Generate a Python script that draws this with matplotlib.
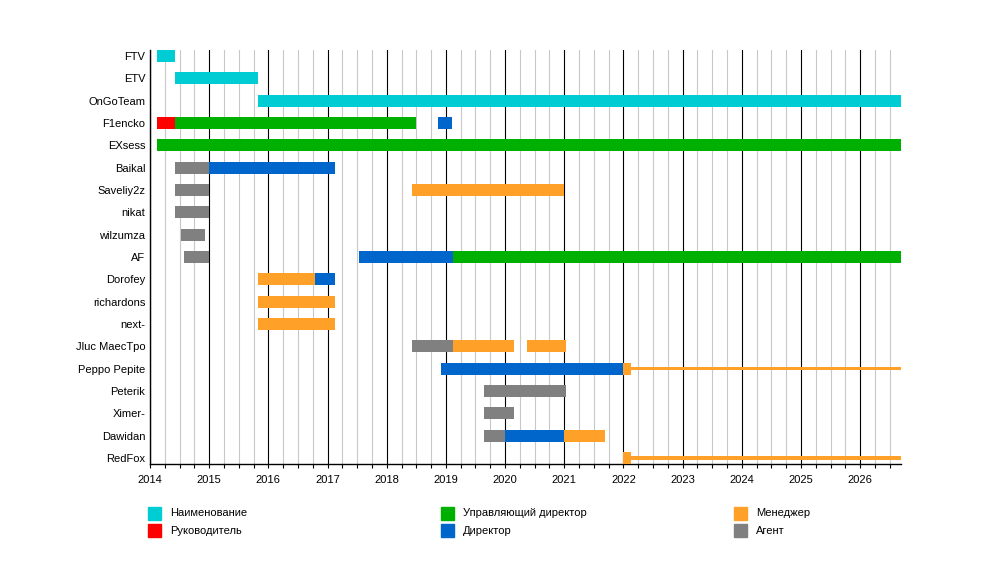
import matplotlib.pyplot as plt
from matplotlib.patches import Rectangle
from matplotlib.ticker import MultipleLocator

plt.rcParams['font.family'] = ['Liberation Sans', 'DejaVu Sans']

END = 2026.69  # timeline runs to "now"

names = ["FTV", "ETV", "OnGoTeam", "F1encko", "EXsess", "Baikal", "Saveliy2z",
         "nikat", "wilzumza", "AF", "Dorofey", "richardons", "next-",
         "Jluc MaecTpo", "Peppo Pepite", "Peterik", "Ximer-", "Dawidan", "RedFox"]

roles = ["Наименование", "Руководитель", "Управляющий директор",
         "Директор", "Менеджер", "Агент"]
role_colors = {
    "Наименование": "#00CCD4",
    "Руководитель": "#FF0000",
    "Управляющий директор": "#00B000",
    "Директор": "#0066CC",
    "Менеджер": "#FFA028",
    "Агент": "#808080",
}

# (name, start, end, role)
periods = [
    ("FTV", 2014.12, 2014.42, "Наименование"),
    ("ETV", 2014.42, 2015.83, "Наименование"),
    ("OnGoTeam", 2015.83, END, "Наименование"),
    ("F1encko", 2014.12, 2014.42, "Руководитель"),
    ("F1encko", 2014.42, 2018.50, "Управляющий директор"),
    ("F1encko", 2018.87, 2019.10, "Директор"),
    ("EXsess", 2014.12, END, "Управляющий директор"),
    ("Baikal", 2014.42, 2015.00, "Агент"),
    ("Baikal", 2015.00, 2017.13, "Директор"),
    ("Saveliy2z", 2014.42, 2015.00, "Агент"),
    ("Saveliy2z", 2018.42, 2021.00, "Менеджер"),
    ("nikat", 2014.42, 2015.00, "Агент"),
    ("wilzumza", 2014.52, 2014.93, "Агент"),
    ("AF", 2014.57, 2015.00, "Агент"),
    ("AF", 2017.53, 2019.12, "Директор"),
    ("AF", 2019.12, END, "Управляющий директор"),
    ("Dorofey", 2015.83, 2016.79, "Менеджер"),
    ("Dorofey", 2016.79, 2017.13, "Директор"),
    ("richardons", 2015.83, 2017.13, "Менеджер"),
    ("next-", 2015.83, 2017.13, "Менеджер"),
    ("Jluc MaecTpo", 2018.42, 2019.12, "Агент"),
    ("Jluc MaecTpo", 2019.12, 2020.15, "Менеджер"),
    ("Jluc MaecTpo", 2020.37, 2021.03, "Менеджер"),
    ("Peppo Pepite", 2018.92, 2022.00, "Директор"),
    ("Peppo Pepite", 2022.00, 2022.13, "Менеджер"),
    ("Peterik", 2019.65, 2021.03, "Агент"),
    ("Ximer-", 2019.65, 2020.15, "Агент"),
    ("Dawidan", 2019.65, 2020.00, "Агент"),
    ("Dawidan", 2020.00, 2021.00, "Директор"),
    ("Dawidan", 2021.00, 2021.69, "Менеджер"),
    ("RedFox", 2022.00, 2022.13, "Менеджер"),
]

# thin "still active" lines
thin_periods = [
    ("Peppo Pepite", 2022.13, END, "Менеджер"),
    ("RedFox", 2022.13, END, "Менеджер"),
]

BAR_H = 0.536
THIN_H = 0.14

fig = plt.figure(figsize=(10, 5.74), dpi=100)
ax = fig.add_axes([0.15, 0.1916, 0.751, 0.7213])

row = {n: i for i, n in enumerate(names)}
for n, s, e, r in periods:
    ax.barh(row[n], e - s, left=s, height=BAR_H, color=role_colors[r], zorder=3, linewidth=0)
for n, s, e, r in thin_periods:
    ax.barh(row[n], e - s, left=s, height=THIN_H, color=role_colors[r], zorder=3, linewidth=0)

ax.set_xlim(2014, END)
ax.set_ylim(len(names) - 1 + BAR_H / 2, -BAR_H / 2)
ax.set_yticks(range(len(names)))
ax.set_yticklabels(names, fontsize=8)
ax.tick_params(axis='y', length=0, pad=3.5)

ax.xaxis.set_minor_locator(MultipleLocator(0.25))
ax.set_xticks(range(2014, 2027))
ax.set_xticklabels([str(y) for y in range(2014, 2027)], fontsize=8)
ax.tick_params(axis='x', which='both', length=3, width=0.8, direction='out', pad=5)
ax.grid(which='minor', axis='x', color='#c8c8c8', linewidth=0.8, zorder=1)
ax.grid(which='major', axis='x', color='black', linewidth=0.8, zorder=2)

for side in ['top', 'right']:
    ax.spines[side].set_visible(False)
ax.spines['left'].set_linewidth(1)
ax.spines['bottom'].set_linewidth(1)

# legend, 3 columns x 2 rows
W, H = 1000, 574
for i, r in enumerate(roles):
    col, rw = i // 2, i % 2
    x0 = 148 + col * 293
    yc = 513 + rw * 17
    fig.patches.append(Rectangle((x0 / W, 1 - (yc + 6.5) / H), 13 / W, 13 / H,
                                 transform=fig.transFigure, color=role_colors[r]))
    fig.text((x0 + 22) / W, 1 - (yc + 0.5) / H, r, fontsize=8, va='center', ha='left')

fig.savefig("out.png", dpi=100)
